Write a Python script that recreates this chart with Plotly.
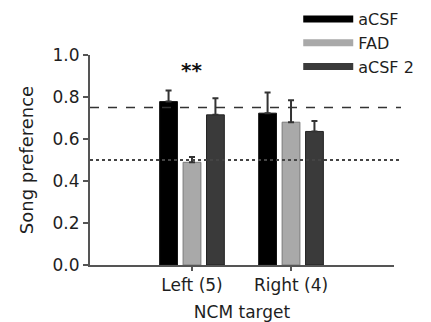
import plotly.graph_objects as go

categories = ["Left (5)", "Right (4)"]
series_names = ["aCSF", "FAD", "aCSF 2"]
acsf = [0.778, 0.723]
fad = [0.489, 0.680]
acsf2 = [0.715, 0.636]
acsf_err = [0.053, 0.098]
fad_err = [0.025, 0.105]
acsf2_err = [0.079, 0.050]
y_ticks = [0.0, 0.2, 0.4, 0.6, 0.8, 1.0]
ref_dashed = 0.75
ref_dotted = 0.5
sig_label = "**"
sig_y = 0.93

colors = ["#000000", "#a9a9a9", "#3a3a3a"]
outlines = ["#111111", "#7a7a7a", "#222222"]
values = [acsf, fad, acsf2]
errs = [acsf_err, fad_err, acsf2_err]

xpos = list(range(len(categories)))
FONT = "DejaVu Sans, Liberation Sans, Arial, sans-serif"

fig = go.Figure()
for name, vals, err, c, oc in zip(series_names, values, errs, colors, outlines):
    fig.add_trace(go.Bar(
        x=xpos, y=vals, name=name, showlegend=False,
        marker=dict(color=c, line=dict(color=oc, width=1)),
        error_y=dict(type="data", array=err, arrayminus=[0] * len(err),
                     symmetric=False, color="#333333", thickness=2, width=3),
    ))
for name, c in zip(series_names, colors):
    fig.add_trace(go.Scatter(
        x=[None], y=[None], mode="lines", name=name,
        line=dict(color=c, width=7),
    ))

fig.add_shape(type="line", xref="paper", yref="y", x0=0, x1=1.023,
              y0=ref_dashed, y1=ref_dashed,
              line=dict(color="#333333", width=1.5, dash="dash"))
fig.add_shape(type="line", xref="paper", yref="y", x0=0, x1=1.023,
              y0=ref_dotted, y1=ref_dotted,
              line=dict(color="#444444", width=1.8, dash="dot"))

fig.add_annotation(x=xpos[0], y=sig_y, text="<b>" + sig_label + "</b>", showarrow=False,
                   font=dict(size=20, color="#111111", family=FONT))

fig.update_layout(
    width=431, height=322,
    margin=dict(l=82, r=45, t=47, b=65, autoexpand=False),
    paper_bgcolor="white", plot_bgcolor="white",
    font=dict(family=FONT, size=17, color="#1e1e1e"),
    barmode="group", bargap=0.29, bargroupgap=0.24,
    showlegend=True,
    legend=dict(x=0.685, y=1.252, xanchor="left", yanchor="top",
                font=dict(size=16, family=FONT, color="#1e1e1e"),
                bgcolor="rgba(0,0,0,0)", itemwidth=50, tracegroupgap=0),
    xaxis=dict(range=[-1.03, 2.04], tickvals=xpos, ticktext=categories,
               showline=True, linecolor="#555555", linewidth=2,
               ticks="outside", ticklen=4, tickcolor="#555555", tickwidth=1.5,
               showgrid=False, zeroline=False, automargin=False,
               title=dict(text="NCM target", standoff=12, font=dict(size=17)),
               tickfont=dict(size=17)),
    yaxis=dict(range=[0, 1.0], tickvals=y_ticks,
               ticktext=[f"{v:.1f}" for v in y_ticks],
               showline=True, linecolor="#555555", linewidth=2,
               ticks="outside", ticklen=5, tickcolor="#555555", tickwidth=1.5,
               showgrid=False, zeroline=False, automargin=False,
               title=dict(text="Song preference", standoff=14, font=dict(size=18)),
               tickfont=dict(size=17)),
)
fig.write_html("out.html")
